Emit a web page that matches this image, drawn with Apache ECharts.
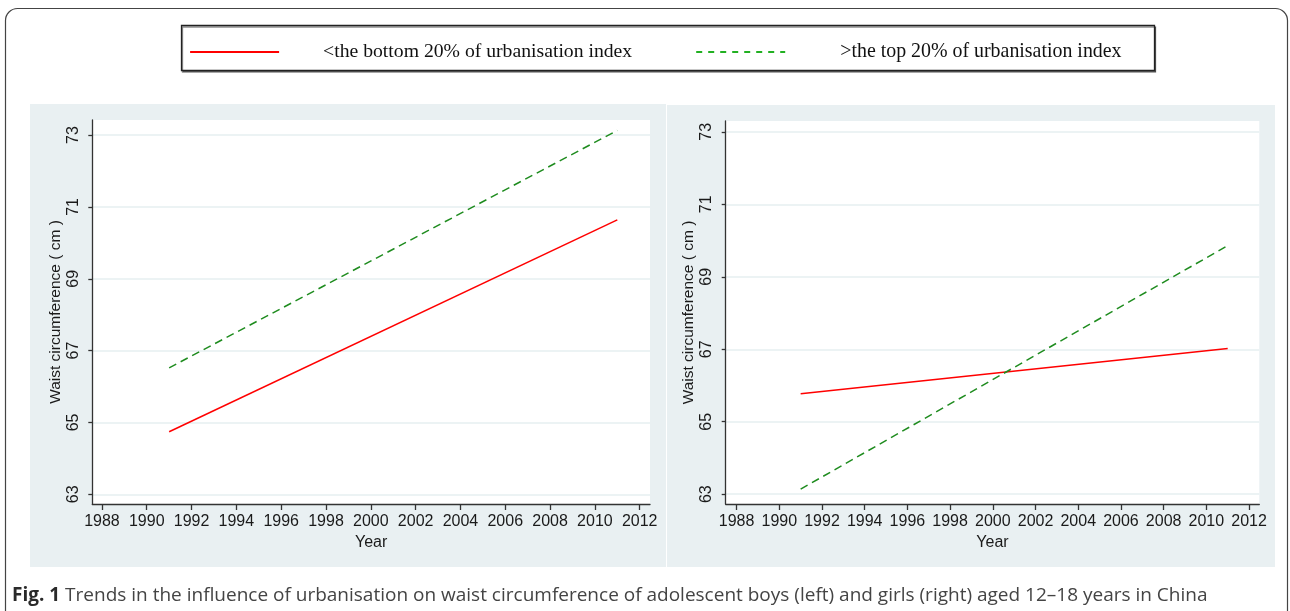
<!DOCTYPE html>
<html>
<head>
<meta charset="utf-8">
<script src="https://cdn.jsdelivr.net/npm/echarts@6/dist/echarts.min.js"></script>
<style>
html,body{margin:0;padding:0;background:#fff;}
#main{width:1290px;height:611px;}
</style>
</head>
<body>
<div id="main"></div>
<script>
// ---- data ----
const years = [1991, 2011];
const boysBottom = [64.74, 70.64];
const boysTop = [66.52, 73.13];
const girlsBottom = [65.77, 67.02];
const girlsTop = [63.14, 69.86];
const yTicks = [63, 65, 67, 69, 71, 73];
const xTicks = [1988, 1990, 1992, 1994, 1996, 1998, 2000, 2002, 2004, 2006, 2008, 2010, 2012];
const seriesNames = ['<the bottom 20% of urbanisation index', '>the top 20% of urbanisation index'];
const yName = 'Waist circumference ( cm )';
const xName = 'Year';
const caption = 'Trends in the influence of urbanisation on waist circumference of adolescent boys (left) and girls (right) aged 12\u201318 years in China';

const pair = (xs, ys) => xs.map((x, i) => [x, ys[i]]);

const chart = echarts.init(document.getElementById('main'), null, {renderer: 'canvas'});

const xFont = {fontFamily: 'Liberation Sans', fontSize: 16, color: '#1a1a1a'};
const yFont = {fontFamily: 'Liberation Sans', fontSize: 16, color: '#1a1a1a'};
const axisLineStyle = {color: '#333', width: 1.3};

function xAxisCfg(idx, min, max) {
  return {
    type: 'value', gridIndex: idx, min: min, max: max,
    name: xName, nameLocation: 'middle', nameGap: 29,
    nameTextStyle: xFont,
    axisLine: {show: true, onZero: false, lineStyle: axisLineStyle},
    axisTick: {show: true, length: 6, customValues: xTicks, lineStyle: axisLineStyle},
    axisLabel: {customValues: xTicks, margin: 10, ...xFont, formatter: v => String(v)},
    splitLine: {show: false}
  };
}
function yAxisCfg(idx, min, max) {
  return {
    type: 'value', gridIndex: idx, min: min, max: max,
    name: yName, nameLocation: 'middle', nameGap: 29, nameRotate: 90,
    nameTextStyle: {fontFamily: 'Liberation Sans', fontSize: 15.5, color: '#1a1a1a'},
    axisLine: {show: true, onZero: false, lineStyle: axisLineStyle},
    axisTick: {show: true, length: 4, customValues: yTicks, lineStyle: axisLineStyle},
    axisLabel: {customValues: yTicks, rotate: 90, margin: 11, ...yFont, formatter: v => String(v)},
    splitLine: {show: true, lineStyle: {color: '#e6eff1', width: 1.5}}
  };
}

const redLine = {color: '#ff0000', width: 1.5, type: 'solid'};
const greenLine = {color: '#1f8c1f', width: 1.5, type: [8, 5]};

const option = {
  animation: false,
  backgroundColor: '#fff',
  graphic: [
    {type: 'rect', z: -10, silent: true,
     shape: {x: 5.5, y: 8.5, width: 1282, height: 640, r: 12},
     style: {fill: '#fff', stroke: '#444', lineWidth: 1.2}},
    {type: 'rect', z: -5, silent: true,
     shape: {x: 30, y: 104, width: 636, height: 463},
     style: {fill: '#e9f0f2'}},
    {type: 'rect', z: -5, silent: true,
     shape: {x: 667, y: 105, width: 608, height: 462},
     style: {fill: '#e9f0f2'}},
    {type: 'rect', z: -4, silent: true,
     shape: {x: 181.5, y: 25.5, width: 973, height: 45},
     style: {fill: '#fff', stroke: '#222', lineWidth: 1.3,
             shadowColor: 'rgba(0,0,0,0.45)', shadowOffsetX: 1, shadowOffsetY: 1.5, shadowBlur: 0.5}}
  ],
  title: {
    left: 7, top: 581,
    text: '{b|Fig. 1} ' + caption,
    textStyle: {
      fontFamily: 'Open Sans', fontSize: 19, fontWeight: 'normal', color: '#444',
      rich: {b: {fontFamily: 'Open Sans', fontSize: 19, fontWeight: 'bold', color: '#2a2a2a'}}
    }
  },
  legend: {
    left: 184, top: 37,
    itemWidth: 89, itemHeight: 10, itemGap: 63,
    itemStyle: {opacity: 0},
    data: [
      {name: seriesNames[0], textStyle: {padding: [0, 0, 0, 39]},
       lineStyle: {color: '#ff0000', width: 2.2}},
      {name: seriesNames[1], textStyle: {padding: [0, 0, 0, 50], fontSize: 19.9},
       lineStyle: {color: '#22b022', width: 2, type: [6, 6]}}
    ],
    textStyle: {fontFamily: 'Liberation Serif', fontSize: 19.7, color: '#111'}
  },
  grid: [
    {left: 92.3, top: 120, width: 557.7, height: 384, show: true, backgroundColor: '#fff', borderWidth: 0},
    {left: 725.7, top: 121, width: 533.6, height: 383, show: true, backgroundColor: '#fff', borderWidth: 0}
  ],
  xAxis: [xAxisCfg(0, 1987.57, 2012.46), xAxisCfg(1, 1987.49, 2012.48)],
  yAxis: [yAxisCfg(0, 62.73, 73.42), yAxisCfg(1, 62.73, 73.30)],
  series: [
    {name: seriesNames[0], type: 'line', xAxisIndex: 0, yAxisIndex: 0, symbol: 'none', lineStyle: redLine, itemStyle: {color: '#ff0000'}, data: pair(years, boysBottom)},
    {name: seriesNames[1], type: 'line', xAxisIndex: 0, yAxisIndex: 0, symbol: 'none', lineStyle: greenLine, itemStyle: {color: '#1f8c1f'}, data: pair(years, boysTop)},
    {name: seriesNames[0], type: 'line', xAxisIndex: 1, yAxisIndex: 1, symbol: 'none', lineStyle: redLine, itemStyle: {color: '#ff0000'}, data: pair(years, girlsBottom)},
    {name: seriesNames[1], type: 'line', xAxisIndex: 1, yAxisIndex: 1, symbol: 'none', lineStyle: greenLine, itemStyle: {color: '#1f8c1f'}, data: pair(years, girlsTop)}
  ]
};
chart.setOption(option);
</script>
</body>
</html>
